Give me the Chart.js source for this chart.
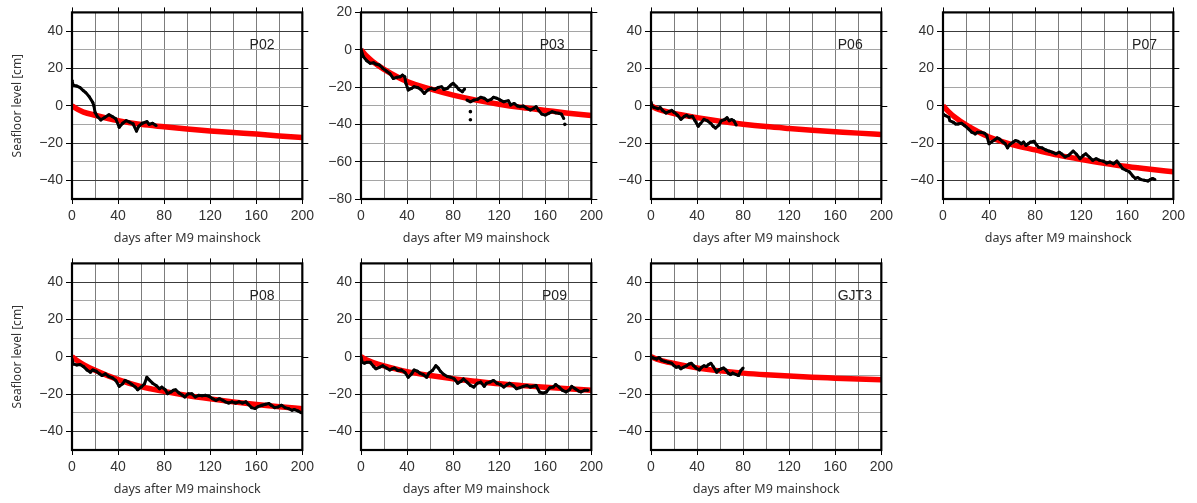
<!DOCTYPE html>
<html>
<head>
<meta charset="utf-8">
<script src="https://cdn.jsdelivr.net/npm/chart.js@4.4.1/dist/chart.umd.min.js"></script>
<style>
  html, body { margin: 0; background: #fff; }
  #sheet { position: relative; width: 1197px; height: 503px; overflow: hidden; }
  #sheet canvas { position: absolute; }
</style>
</head>
<body>
<div id="sheet"></div>
<script>
// Days of the fitted postseismic curve (shared by every station)
const fitDays = [0, 5, 10, 20, 40, 60, 80, 100, 120, 140, 160, 180, 200];

// P02
const p02Days = [0, 1, 4, 7, 10, 12, 15, 18, 19, 20, 22, 25, 28, 32, 35, 38, 41, 44, 47, 50, 53, 56, 58, 61, 65, 67, 70, 73];
const p02Level = [13.6, 11, 10.6, 9.7, 8, 7, 4.8, 1.8, 0, -3.5, -5.8, -7.6, -6.5, -4.8, -5.8, -7, -11.5, -9.4, -8, -8.8, -9.7, -13.6, -11, -9.4, -8.5, -10, -9.4, -10.6];
const p02Fit = [0, -2, -3.4, -5.1, -8, -10, -11.3, -12.5, -13.5, -14.4, -15.2, -16.2, -17];

// P03 (null = no record)
const p03Days = [0, 1, 2, 5, 8, 11, 13, 16, 19, 22, 25, 28, 31, 34, 36, 38, 39, 41, 44, 46, 49, 52, 55, 58, 61, 64, 67, 70, 72, 75, 78, 80, 83, 85, 88, 90, 91, 92, 95, 98, 101, 104, 107, 110, 113, 115, 118, 121, 124, 128, 130, 133, 136, 138, 141, 144, 147, 150, 152, 154, 157, 160, 163, 166, 169, 172, 174, 176];
const p03Level = [0.5, -2, -3.7, -5.9, -7.3, -7, -7.7, -8.2, -10, -11.4, -12.7, -15.4, -14.8, -14.5, -13.6, -14.5, -18, -21.6, -20.7, -19.8, -20.2, -21.3, -23.4, -21.6, -20.7, -21.3, -20.2, -19.8, -21.3, -20.7, -18.9, -18, -19.8, -21.3, -22.5, -21, null, -27, -27.9, -27, -26.6, -25.5, -26, -27.3, -26.6, -25.5, -26, -27, -27.9, -27.3, -29.6, -28.8, -30.2, -30.5, -30.2, -31.4, -32.3, -31.4, -30.5, -32.3, -34.5, -35, -34.1, -33.2, -33.8, -34.1, -34.5, -36.8];
const p03StrayDays = [95, 95, 177];
const p03StrayLevel = [-33.2, -37.5, -40];
const p03Fit = [0, -3.5, -6.2, -10.5, -17, -21, -24.3, -27, -29.2, -31, -32.5, -34, -35.3];

// P06
const p06Days = [0, 1, 3, 6, 8, 10, 13, 16, 18, 20, 23, 26, 29, 31, 33, 36, 38, 41, 43, 46, 49, 52, 54, 56, 59, 61, 64, 66, 68, 70, 72, 74];
const p06Level = [2, -0.4, -1, -1.6, -1, -2.5, -3.9, -3, -2.5, -3.5, -5.1, -7.3, -5.7, -5.1, -6, -5.7, -7.8, -11, -9.6, -7.3, -8.1, -9.6, -11, -12, -10.4, -8.1, -7.4, -6.4, -8.1, -7.4, -8.1, -10.4];
const p06Fit = [0, -1.6, -2.7, -4.2, -6.4, -8.3, -9.9, -11.2, -12.2, -13.1, -13.9, -14.7, -15.4];

// P07
const p07Days = [0, 2, 5, 6, 9, 11, 13, 16, 19, 22, 25, 28, 30, 33, 36, 38, 40, 42, 45, 47, 49, 52, 54, 56, 58, 61, 63, 65, 68, 70, 72, 74, 76, 79, 81, 83, 86, 89, 92, 95, 98, 101, 103, 106, 109, 113, 116, 119, 122, 124, 127, 130, 133, 136, 139, 142, 145, 148, 151, 154, 156, 159, 162, 165, 167, 169, 172, 175, 178, 180, 182, 184];
const p07Level = [-4.4, -5.3, -6.2, -8, -8.9, -9.8, -9.8, -9.4, -10.7, -12.4, -14.2, -15.1, -14.2, -14.2, -14.7, -16, -20.4, -19.5, -18.3, -17.2, -17.8, -19.5, -20.4, -22.6, -20.8, -19.5, -18.7, -19, -20.4, -19.5, -21.3, -20.4, -19.5, -19, -20.8, -22.2, -22.6, -23.6, -24.3, -24.9, -25.8, -24.9, -25.8, -27.5, -26.6, -24.3, -26.1, -28.4, -26.6, -25.8, -27.5, -29.3, -28.4, -29.3, -29.7, -30.7, -30.2, -31.1, -29.7, -32, -33.7, -34.6, -35.5, -37.8, -39, -38.5, -39.6, -40, -40.3, -39.6, -39, -39.6];
const p07Fit = [0, -3.3, -6, -10.3, -16.8, -20.8, -23.7, -26.5, -28.8, -30.8, -32.6, -34.1, -35.4];

// P08
const p08Days = [0, 1, 4, 7, 10, 13, 16, 18, 21, 24, 26, 29, 32, 35, 38, 41, 44, 46, 49, 52, 55, 57, 60, 63, 65, 67, 70, 73, 76, 78, 81, 83, 86, 88, 90, 93, 96, 98, 101, 104, 107, 110, 113, 116, 119, 122, 125, 128, 131, 133, 136, 139, 142, 145, 148, 151, 153, 156, 159, 161, 165, 168, 171, 173, 176, 179, 182, 185, 188, 191, 193, 196, 199];
const p08Level = [-1.2, -3.9, -4.4, -4.2, -5.3, -7.1, -8.3, -7.1, -7.8, -9.2, -10.1, -9.2, -10.6, -11.3, -12.7, -15.9, -14.5, -12.7, -13.6, -14.9, -16.3, -17.7, -16.3, -14.5, -11, -12.4, -14.2, -15.4, -17.2, -16.3, -17.7, -19.8, -18.9, -18, -17.7, -19.5, -20.7, -21.6, -19.8, -19.8, -21.6, -20.7, -20.9, -20.7, -21.2, -22.5, -23.4, -22.5, -23.4, -24.2, -24.8, -24.2, -24.8, -24.2, -24.8, -24.2, -25.5, -27.3, -27.8, -26.9, -26, -25.5, -25.1, -26, -27.3, -26.9, -26, -27.3, -27.8, -28.7, -28.3, -29, -30];
const p08Fit = [0, -2.3, -4.2, -7.3, -12.3, -16, -18.6, -20.8, -22.6, -24.2, -25.6, -26.8, -27.9];

// P09
const p09Days = [0, 1, 3, 5, 8, 11, 13, 16, 19, 22, 25, 27, 29, 32, 35, 38, 41, 44, 46, 49, 51, 54, 57, 59, 62, 65, 67, 69, 72, 75, 78, 81, 84, 87, 89, 92, 95, 98, 101, 104, 107, 109, 112, 115, 118, 121, 124, 127, 129, 132, 135, 138, 141, 144, 147, 149, 152, 155, 158, 161, 164, 167, 169, 172, 175, 178, 181, 183, 186, 189, 191, 194, 197];
const p09Level = [0, -3, -3.5, -3, -3, -5.3, -6.5, -5.7, -4.8, -6, -7.1, -6.5, -6, -7.4, -7.1, -8.3, -11, -9.2, -7.1, -7.8, -8.8, -9.6, -11, -8.8, -7.4, -4.8, -6, -7.8, -9.6, -10.6, -11, -11.9, -14.2, -13.1, -11.9, -13.6, -15.4, -16.3, -14.2, -13.6, -15.9, -14.2, -13.6, -12.7, -14.2, -14.9, -16.3, -14.9, -14.2, -15.4, -17.2, -16.6, -15.9, -15.4, -16.3, -15.9, -15.4, -18.9, -19.5, -18.9, -16.6, -16.3, -14.9, -16.3, -18, -18.9, -17.7, -15.9, -17.2, -18.4, -18.9, -18, -18];
const p09Fit = [0, -1.8, -3, -4.9, -8, -10.1, -11.8, -13.2, -14.5, -15.5, -16.4, -17.2, -18];

// GJT3
const gjt3Days = [0, 2, 5, 7, 9, 12, 15, 18, 20, 22, 24, 26, 28, 31, 33, 35, 37, 39, 42, 44, 46, 48, 50, 52, 54, 57, 59, 61, 63, 65, 67, 69, 71, 74, 76, 78, 80];
const gjt3Level = [0, -0.7, -1.2, -0.4, -1.8, -2.5, -3, -3.5, -4.8, -5.7, -5.3, -6.5, -5.7, -4.8, -3.9, -3.5, -4.8, -6, -7.1, -5.7, -4.8, -5.3, -4.2, -3.5, -5.3, -8.3, -7.1, -6.5, -6, -7.1, -8.8, -9.6, -8.8, -9.6, -10.1, -7.4, -6];
const gjt3Fit = [0, -1.3, -2.2, -3.6, -6, -7.6, -8.8, -9.7, -10.4, -11, -11.5, -12, -12.4];

const stations = [
  { name: 'P02', days: p02Days, level: p02Level, fit: p02Fit, yMin: -50, yMax: 50 },
  { name: 'P03', days: p03Days, level: p03Level, fit: p03Fit, yMin: -80, yMax: 20, strayDays: p03StrayDays, strayLevel: p03StrayLevel },
  { name: 'P06', days: p06Days, level: p06Level, fit: p06Fit, yMin: -50, yMax: 50 },
  { name: 'P07', days: p07Days, level: p07Level, fit: p07Fit, yMin: -50, yMax: 50 },
  { name: 'P08', days: p08Days, level: p08Level, fit: p08Fit, yMin: -50, yMax: 50 },
  { name: 'P09', days: p09Days, level: p09Level, fit: p09Fit, yMin: -50, yMax: 50 },
  { name: 'GJT3', days: gjt3Days, level: gjt3Level, fit: gjt3Fit, yMin: -50, yMax: 50 },
];

// panel placement on the sheet: plot-area corner + where the station name sits
const PLOT_W = 232, PLOT_H = 188, PAD_TOP = 10, PAD_RIGHT = 14, X_AXIS_H = 50;
const layout = [
  { left: 72, top: 11, col: 0, nameAt: 165 },
  { left: 361, top: 11, col: 1, nameAt: 166 },
  { left: 651, top: 11, col: 2, nameAt: 173 },
  { left: 943, top: 11, col: 3, nameAt: 175 },
  { left: 72, top: 262, col: 0, nameAt: 165 },
  { left: 361, top: 262, col: 1, nameAt: 168 },
  { left: 651, top: 262, col: 2, nameAt: 177 },
];

Chart.defaults.font.family = "'Liberation Sans', Arial, sans-serif";
Chart.defaults.color = '#333';

const minus = v => String(v).replace('-', '\u2212');
const pairs = (xs, ys) => xs.map((x, i) => ({ x, y: ys[i] }));

// thick frame, outward ticks on top/right, station name
const framePlugin = {
  id: 'frame',
  afterDraw(chart, args, opts) {
    const { ctx, chartArea: a, scales: { x, y } } = chart;
    ctx.save();
    ctx.strokeStyle = '#000';
    ctx.lineWidth = 1;
    ctx.beginPath();
    x.ticks.forEach(t => {
      if (t.value % 40 !== 0) return;
      const px = Math.round(x.getPixelForValue(t.value)) + 0.5;
      ctx.moveTo(px, a.top);
      ctx.lineTo(px, a.top - 5);
    });
    y.ticks.forEach(t => {
      if (t.value % 20 !== 0) return;
      const py = Math.round(y.getPixelForValue(t.value)) + 0.5;
      ctx.moveTo(a.right, py);
      ctx.lineTo(a.right + 6, py);
    });
    ctx.stroke();
    ctx.lineWidth = 2.2;
    ctx.strokeRect(a.left, a.top, a.right - a.left, a.bottom - a.top);

    ctx.fillStyle = '#222';
    ctx.font = "14px 'Liberation Sans', Arial, sans-serif";
    ctx.textAlign = 'center';
    ctx.textBaseline = 'middle';
    ctx.fillText(opts.text, x.getPixelForValue(opts.at), a.top + 33);
    ctx.restore();
  },
};

const sheet = document.getElementById('sheet');

stations.forEach((st, i) => {
  const pos = layout[i];
  const yW = pos.col === 0 ? 72 : 48;
  const canvas = document.createElement('canvas');
  const w = yW + PLOT_W + PAD_RIGHT;
  const h = PAD_TOP + PLOT_H + X_AXIS_H;
  canvas.width = w;
  canvas.height = h;
  canvas.style.left = (pos.left - yW) + 'px';
  canvas.style.top = (pos.top - PAD_TOP) + 'px';
  canvas.style.width = w + 'px';
  canvas.style.height = h + 'px';
  sheet.appendChild(canvas);

  const datasets = [
    {
      data: pairs(st.days, st.level),
      borderColor: '#000',
      backgroundColor: '#000',
      borderWidth: 3,
      borderJoinStyle: 'round',
      pointRadius: 1.5,
      pointBorderWidth: 0,
      tension: 0,
      spanGaps: false,
    },
  ];
  if (st.strayDays) {
    datasets.push({
      data: pairs(st.strayDays, st.strayLevel),
      showLine: false,
      backgroundColor: '#000',
      pointRadius: 1.8,
      pointBorderWidth: 0,
    });
  }
  datasets.push({
    data: pairs(fitDays, st.fit),
    borderColor: '#ff0000',
    borderWidth: 5.5,
    pointRadius: 0,
    cubicInterpolationMode: 'monotone',
  });

  new Chart(canvas, {
    type: 'line',
    data: { datasets },
    options: {
      responsive: false,
      animation: false,
      devicePixelRatio: 1,
      layout: { padding: { top: PAD_TOP, right: PAD_RIGHT, left: 0, bottom: 0 } },
      plugins: {
        legend: { display: false },
        tooltip: { enabled: false },
        frame: { text: st.name, at: pos.nameAt },
      },
      scales: {
        x: {
          type: 'linear',
          min: 0,
          max: 200,
          afterFit: s => { s.height = X_AXIS_H; },
          ticks: {
            stepSize: 20,
            autoSkip: false,
            maxRotation: 0,
            padding: 4,
            font: { size: 14 },
            color: '#333',
            callback: v => (v % 40 === 0 ? String(v) : ''),
          },
          grid: {
            color: '#7d7d7d',
            lineWidth: 1,
            tickLength: 5,
            tickColor: c => (c.tick && c.tick.value % 40 === 0 ? '#000' : 'rgba(0,0,0,0)'),
          },
          border: { display: false },
          title: {
            display: true,
            text: 'days after M9 mainshock',
            color: '#333',
            font: { family: "'Noto Sans', sans-serif", size: 12.5 },
            padding: { top: 0, bottom: 3 },
          },
        },
        y: {
          min: st.yMin,
          max: st.yMax,
          afterFit: s => { s.width = yW; },
          ticks: {
            stepSize: 10,
            autoSkip: false,
            padding: 3,
            font: { size: 14 },
            color: '#333',
            callback: v => (v % 20 === 0 ? minus(v) : ''),
          },
          grid: {
            color: c => (c.tick && c.tick.value % 20 === 0 ? '#3c3c3c' : '#a5a5a5'),
            lineWidth: 1,
            tickLength: 6,
            tickColor: c => (c.tick && c.tick.value % 20 === 0 ? '#000' : 'rgba(0,0,0,0)'),
          },
          border: { display: false },
          title: {
            display: pos.col === 0,
            text: 'Seafloor level [cm]',
            color: '#333',
            font: { family: "'Noto Sans', sans-serif", size: 12 },
            padding: { top: 10, bottom: 0 },
          },
        },
      },
    },
    plugins: [framePlugin],
  });
});
</script>
</body>
</html>
